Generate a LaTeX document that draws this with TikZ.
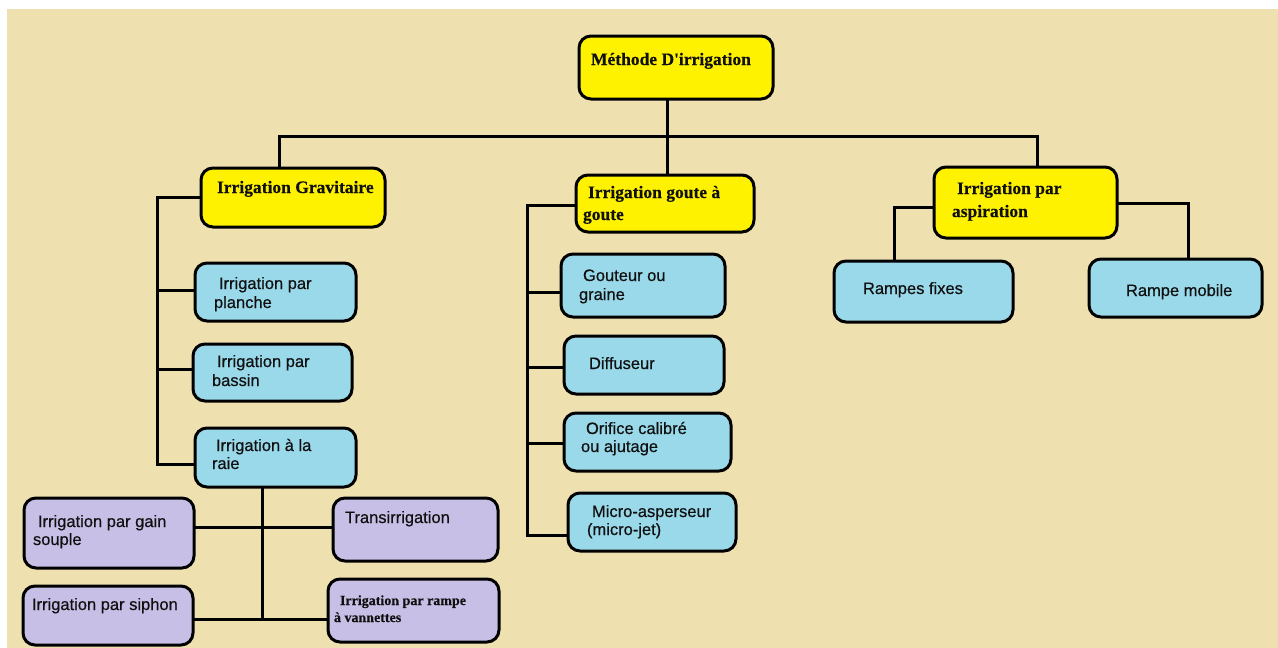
\documentclass[tikz,border=0pt]{standalone}
\usepackage{fontspec}
\setmainfont{Liberation Serif}[BoldFeatures={FakeBold=0.3}]
\newfontfamily\arialfam{Liberation Sans}[FakeBold=0.5]
\usetikzlibrary{fit}
\definecolor{fond}{HTML}{EEE1AF}
\definecolor{jauneC}{HTML}{FFF200}
\definecolor{bleuC}{HTML}{99D9EA}
\definecolor{mauveC}{HTML}{C8BFE7}
\definecolor{ink}{HTML}{101010}
\tikzset{
  boite/.style={draw=black, line width=3pt, rounded corners=12pt, inner sep=0pt, outer sep=0pt},
  jaune/.style={boite, fill=jauneC},
  bleu/.style={boite, fill=bleuC},
  mauve/.style={boite, fill=mauveC},
  lien/.style={draw=black, line width=3pt},
  serif/.style={font=\fontsize{17.5}{21}\selectfont\bfseries, text=ink},
  petitserif/.style={font=\fontsize{14}{17}\selectfont\bfseries, text=ink},
  sans/.style={font=\arialfam\fontsize{16.5}{19}\selectfont, text=ink},
  ligne/.style={anchor=base west, inner sep=0pt, outer sep=0pt}
}
% box: name, style, x1, y1, x2, y2
\newcommand\boite[6]{\node[#2, fit={(#3,#4) (#5,#6)}] (#1) {};}
% one text line: name, x, baseline y, style, text
\newcommand\ligne[5]{\node[ligne, #4] (#1) at (#2,#3) {#5};}
\begin{document}
\begin{tikzpicture}[x=1pt, y=-1pt]
\useasboundingbox (0,0) rectangle (1278,648);
\fill[white] (0,0) rectangle (1278,648);
\fill[fond] (7,9) rectangle (1278,648);

% root and first level
\boite{meth}{jaune}{579}{36}{773}{99}
\boite{grav}{jaune}{201}{168}{385}{227}
\boite{gout}{jaune}{576}{175}{754}{232}
\boite{asp}{jaune}{934}{167}{1117}{238}
% aspiration
\boite{fixes}{bleu}{834}{261}{1013}{322}
\boite{mobile}{bleu}{1089}{259}{1262}{317}
% gravitaire
\boite{planche}{bleu}{195}{263}{356}{321}
\boite{bassin}{bleu}{193}{344}{352}{401}
\boite{raie}{bleu}{195}{428}{356}{487}
\boite{gain}{mauve}{24}{498}{194}{568}
\boite{trans}{mauve}{333}{498}{498}{561}
\boite{siphon}{mauve}{23}{586}{193}{645}
\boite{vann}{mauve}{328}{579}{499}{642}
% goutte a goutte
\boite{gouteur}{bleu}{561}{254}{725}{317}
\boite{diff}{bleu}{564}{336}{724}{394}
\boite{orif}{bleu}{564}{413}{731}{471}
\boite{micro}{bleu}{568}{493}{736}{551}

% labels
\ligne{meth-t}{591}{65}{serif}{Méthode D\textquotesingle irrigation}
\ligne{grav-t}{217}{193}{serif}{Irrigation Gravitaire}
\ligne{gout-t1}{588}{198}{serif}{Irrigation goute à}
\ligne{gout-t2}{583}{220}{serif}{goute}
\ligne{asp-t1}{957}{194}{serif}{Irrigation par}
\ligne{asp-t2}{952}{217}{serif}{aspiration}
\ligne{fixes-t}{863}{294}{sans}{Rampes fixes}
\ligne{mobile-t}{1126}{296}{sans}{Rampe mobile}
\ligne{planche-t1}{219}{289}{sans}{Irrigation par}
\ligne{planche-t2}{214}{308}{sans}{planche}
\ligne{bassin-t1}{217}{367}{sans}{Irrigation par}
\ligne{bassin-t2}{212}{386}{sans}{bassin}
\ligne{raie-t1}{216}{451}{sans}{Irrigation à la}
\ligne{raie-t2}{212}{469}{sans}{raie}
\ligne{gain-t1}{38}{527}{sans}{Irrigation par gain}
\ligne{gain-t2}{33}{545}{sans}{souple}
\ligne{trans-t}{345}{523}{sans}{Transirrigation}
\ligne{siphon-t}{32}{610}{sans}{Irrigation par siphon}
\ligne{vann-t1}{340}{605}{petitserif}{Irrigation par rampe}
\ligne{vann-t2}{334}{622}{petitserif}{à vannettes}
\ligne{gouteur-t1}{583}{281}{sans}{Gouteur ou}
\ligne{gouteur-t2}{579}{300}{sans}{graine}
\ligne{diff-t}{589}{369}{sans}{Diffuseur}
\ligne{orif-t1}{586}{434}{sans}{Orifice calibré}
\ligne{orif-t2}{581}{452}{sans}{ou ajutage}
\ligne{micro-t1}{592}{517}{sans}{Micro-asperseur}
\ligne{micro-t2}{587}{535}{sans}{(micro-jet)}

% main bus
\coordinate (bus) at (667,136);
\coordinate (bl) at (279,136);
\coordinate (br) at (1037,136);
\draw[lien] (bus |- meth.south) -- (bus);
\draw[lien] (bl |- grav.north) -- (bl) -- (br) -- (br |- asp.north);
\draw[lien] (bus) -- (bus |- gout.north);

% gravitaire branch
\coordinate (g0) at (157,197);
\coordinate (gp) at (157,290);
\coordinate (gb) at (157,369);
\coordinate (g1) at (157,464);
\draw[lien] (g0 -| grav.west) -- (g0) -- (g1) -- (g1 -| raie.west);
\draw[lien] (gp) -- (gp -| planche.west);
\draw[lien] (gb) -- (gb -| bassin.west);

% raie branch
\coordinate (rx) at (262,527);
\coordinate (ry) at (262,619);
\draw[lien] (rx |- raie.south) -- (ry);
\draw[lien] (rx -| gain.east) -- (rx -| trans.west);
\draw[lien] (ry -| siphon.east) -- (ry -| vann.west);

% goutte a goutte branch
\coordinate (m0) at (527,205);
\coordinate (mg) at (527,292);
\coordinate (md) at (527,367);
\coordinate (mo) at (527,443);
\coordinate (m3) at (527,535);
\draw[lien] (m0 -| gout.west) -- (m0) -- (m3) -- (m3 -| micro.west);
\draw[lien] (mg) -- (mg -| gouteur.west);
\draw[lien] (md) -- (md -| diff.west);
\draw[lien] (mo) -- (mo -| orif.west);

% aspiration branch
\coordinate (a0) at (894,207);
\coordinate (a1) at (1188,203);
\draw[lien] (a0 -| asp.west) -- (a0) -- (a0 |- fixes.north);
\draw[lien] (a1 -| asp.east) -- (a1) -- (a1 |- mobile.north);
\end{tikzpicture}
\end{document}
